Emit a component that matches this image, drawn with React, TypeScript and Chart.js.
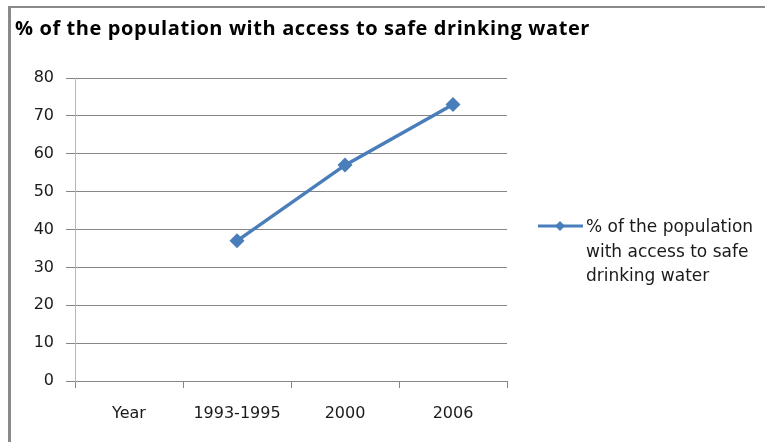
import React, { useEffect, useRef } from "react";
import { Chart, registerables } from "chart.js";

Chart.register(...registerables);

const TITLE = "% of the population with access to safe drinking water";
const SERIES_LABEL = "% of the population with access to safe drinking water";
const CATEGORIES = ["Year", "1993-1995", "2000", "2006"];
const VALUES: (number | null)[] = [null, 37, 57, 73];
const Y_MIN = 0;
const Y_MAX = 80;
const Y_STEP = 10;

const FONT = "'DejaVu Sans', sans-serif";
const TITLE_FONT = "'Open Sans', sans-serif";
const LINE_COLOR = "#4a7ebb";
const GRID_COLOR = "#868686";
const TEXT_COLOR = "#1a1a1a";

const framePlugin = {
  id: "frame",
  beforeDraw(chart: any) {
    const ctx = chart.ctx;
    ctx.save();
    ctx.fillStyle = "#fff";
    ctx.fillRect(0, 0, chart.width, chart.height);
    ctx.fillStyle = "#8a8a8a";
    ctx.fillRect(8, 6, 3, chart.height - 6);
    ctx.fillRect(8, 6, chart.width - 8, 2);
    ctx.restore();
  },
};

const titlePlugin = {
  id: "spacedTitle",
  afterDraw(chart: any, _args: any, opts: any) {
    const ctx = chart.ctx;
    ctx.save();
    try {
      (ctx as any).letterSpacing = "0.6px";
    } catch (e) {}
    ctx.font = `bold 20px ${TITLE_FONT}`;
    ctx.fillStyle = "#000";
    ctx.textBaseline = "middle";
    ctx.textAlign = "left";
    ctx.fillText(opts.text, 15, 29);
    ctx.restore();
  },
};

const legendPlugin = {
  id: "sideLegend",
  afterDraw(chart: any) {
    const ctx = chart.ctx;
    const ds = chart.data.datasets[0];
    const area = chart.chartArea;
    const x0 = area.right + 31;
    const lineY = area.top + 148;
    ctx.save();
    ctx.strokeStyle = ds.borderColor;
    ctx.lineWidth = 3;
    ctx.beginPath();
    ctx.moveTo(x0, lineY);
    ctx.lineTo(x0 + 45, lineY);
    ctx.stroke();
    ctx.fillStyle = ds.borderColor;
    ctx.beginPath();
    const cx = x0 + 22, r = 5;
    ctx.moveTo(cx, lineY - r);
    ctx.lineTo(cx + r, lineY);
    ctx.lineTo(cx, lineY + r);
    ctx.lineTo(cx - r, lineY);
    ctx.closePath();
    ctx.fill();
    ctx.font = `17px ${FONT}`;
    ctx.fillStyle = TEXT_COLOR;
    ctx.textBaseline = "middle";
    const maxW = 180;
    const words = String(ds.label).split(" ");
    const lines: string[] = [];
    let cur = "";
    for (const w of words) {
      const t = cur ? cur + " " + w : w;
      if (ctx.measureText(t).width > maxW && cur) {
        lines.push(cur);
        cur = w;
      } else cur = t;
    }
    if (cur) lines.push(cur);
    lines.forEach((l, i) => ctx.fillText(l, x0 + 48, lineY + 2 + i * 24.5));
    ctx.restore();
  },
};

export default function App() {
  const ref = useRef<HTMLCanvasElement>(null);
  useEffect(() => {
    if (!ref.current) return;
    const chart = new Chart(ref.current, {
      type: "line",
      data: {
        labels: CATEGORIES,
        datasets: [
          {
            label: SERIES_LABEL,
            data: VALUES,
            borderColor: LINE_COLOR,
            backgroundColor: LINE_COLOR,
            borderWidth: 3.5,
            pointStyle: "rectRot",
            pointRadius: 7.5,
            pointBorderWidth: 0,
            pointBackgroundColor: LINE_COLOR,
            tension: 0,
          },
        ],
      },
      options: {
        animation: false,
        responsive: false,
        layout: { padding: { left: 15, right: 258, top: 78, bottom: 0 } },
        plugins: {
          legend: { display: false },
          tooltip: { enabled: false },
          title: { display: false },
          spacedTitle: { text: TITLE },
        } as any,
        scales: {
          x: {
            type: "category",
            offset: true,
            grid: {
              offset: true,
              drawOnChartArea: false,
              drawTicks: true,
              tickLength: 7,
              color: GRID_COLOR,
            },
            border: { color: GRID_COLOR, width: 1 },
            ticks: {
              color: TEXT_COLOR,
              font: { family: FONT, size: 16 },
              padding: 16,
              maxRotation: 0,
            },
            afterFit(scale: any) {
              scale.height = 61;
            },
          },
          y: {
            min: Y_MIN,
            max: Y_MAX,
            ticks: {
              stepSize: Y_STEP,
              color: TEXT_COLOR,
              font: { family: FONT, size: 16 },
              padding: 12,
            },
            grid: { color: GRID_COLOR, tickLength: 9 },
            border: { color: "#b5b5b5", width: 1 },
            afterFit(scale: any) {
              scale.width = 60;
            },
          },
        },
      },
      plugins: [framePlugin, titlePlugin, legendPlugin],
    });
    return () => chart.destroy();
  }, []);
  return (
    <div style={{ position: "fixed", left: 0, top: 0, width: 765, height: 442 }}>
      <canvas ref={ref} width={765} height={442} style={{ display: "block" }} />
    </div>
  );
}
